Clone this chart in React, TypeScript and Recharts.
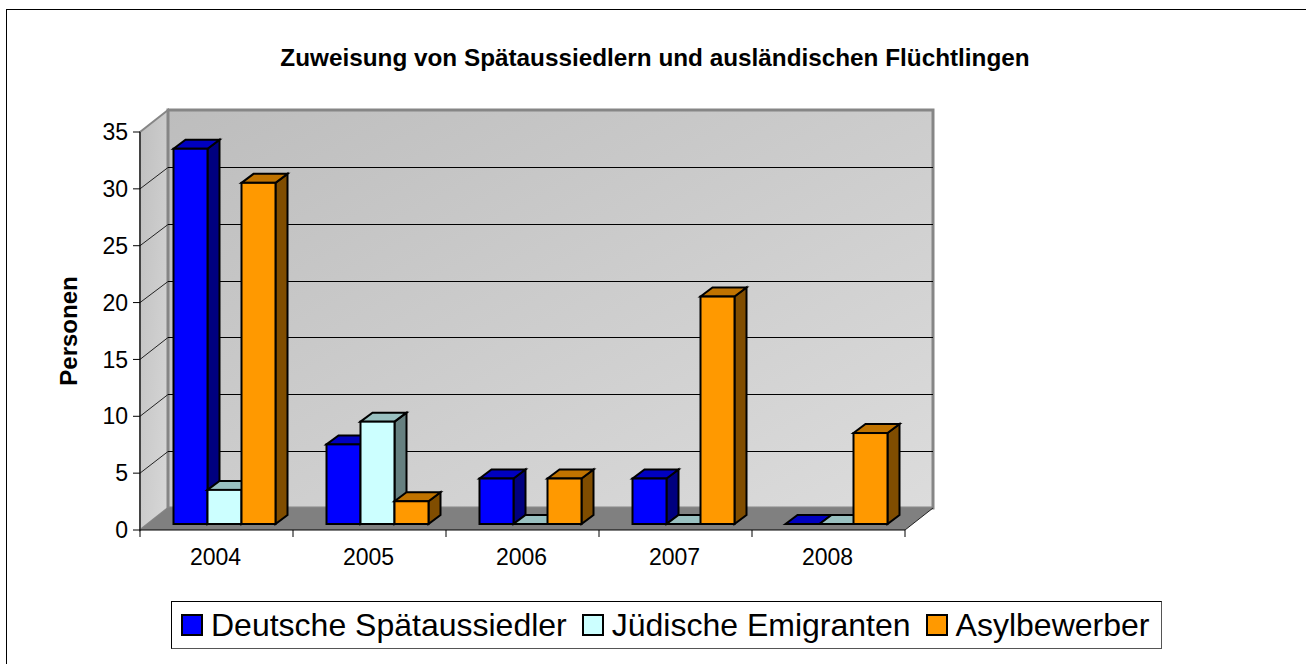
import React from "react";
import { Bar, BarChart, CartesianGrid, Legend, XAxis, YAxis } from "recharts";

const YEARS = ["2004", "2005", "2006", "2007", "2008"];
const SPAETAUSSIEDLER = [33, 7, 4, 4, 0];
const EMIGRANTEN = [3, 9, 0, 0, 0];
const ASYLBEWERBER = [30, 2, 4, 20, 8];
const Y_TICKS = [0, 5, 10, 15, 20, 25, 30, 35];

const FONT = "'Liberation Sans', Arial, sans-serif";

const data = YEARS.map((year, i) => ({
  year,
  spaet: SPAETAUSSIEDLER[i],
  emig: EMIGRANTEN[i],
  asyl: ASYLBEWERBER[i],
}));

// plot area of the front plane
const LEFT = 140;
const RIGHT = 905;
const TOP = 132;
const BOTTOM = 530;
// offset of the back wall
const WALL_DX = 28;
const WALL_DY = -22;
// bars stand in the middle of the floor
const BAR_SHIFT_X = 7.5;
const BAR_SHIFT_Y = -6;
const BAR_DX = 12;
const BAR_DY = -9;

const pts = (list: number[][]) => list.map((p) => p.join(",")).join(" ");

const make3dBar = (top: string, side: string) => (props: any) => {
  const { x, y, width, height, fill } = props;
  const l = x + BAR_SHIFT_X;
  const r = l + width;
  const t = y + BAR_SHIFT_Y;
  const b = t + height;
  const common = { stroke: "#000", strokeWidth: 2, strokeLinejoin: "miter" as const };
  return (
    <g>
      <polygon
        points={pts([[r, t], [r + BAR_DX, t + BAR_DY], [r + BAR_DX, b + BAR_DY], [r, b]])}
        fill={side}
        {...common}
      />
      <polygon
        points={pts([[l, t], [l + BAR_DX, t + BAR_DY], [r + BAR_DX, t + BAR_DY], [r, t]])}
        fill={top}
        {...common}
      />
      <rect x={l} y={t} width={width} height={height} fill={fill} {...common} />
    </g>
  );
};

// walls and floor, drawn once in the grid layer so the grid lines stay on top
const Walls = () => (
  <g>
    <polygon
      points={pts([[LEFT, TOP], [LEFT + WALL_DX, TOP + WALL_DY], [LEFT + WALL_DX, BOTTOM + WALL_DY], [LEFT, BOTTOM]])}
      fill="url(#wallSide)"
      stroke="#868686"
      strokeWidth={2}
    />
    <rect
      x={LEFT + WALL_DX}
      y={TOP + WALL_DY}
      width={RIGHT - LEFT}
      height={BOTTOM - TOP}
      fill="url(#wallBack)"
      stroke="#868686"
      strokeWidth={3}
    />
    <polygon
      points={pts([[LEFT, BOTTOM], [RIGHT, BOTTOM], [RIGHT + WALL_DX, BOTTOM + WALL_DY], [LEFT + WALL_DX, BOTTOM + WALL_DY]])}
      fill="#808080"
    />
    <line x1={RIGHT} y1={BOTTOM} x2={RIGHT + WALL_DX} y2={BOTTOM + WALL_DY} stroke="#222" />
  </g>
);

// custom grid line: runs along the back wall and down the side wall to the tick
const gridLine = (props: any) => {
  const { x1, x2, y1, index, key } = props;
  const edge = Math.abs(y1 - BOTTOM) < 1 || Math.abs(y1 - TOP) < 1;
  const backY = Math.round(y1 + WALL_DY) + 0.5;
  return (
    <g key={key}>
      {index === 0 && <Walls />}
      {!edge && (
        <>
          <line x1={x1} y1={y1} x2={x1 + WALL_DX} y2={backY} stroke="#222" strokeWidth={1} />
          <line x1={x1 + WALL_DX} y1={backY} x2={x2 + WALL_DX} y2={backY} stroke="#000" strokeWidth={1} />
        </>
      )}
    </g>
  );
};

const XTick = (props: any) => {
  const { x, y, payload, index, visibleTicksCount } = props;
  const band = (RIGHT - LEFT) / visibleTicksCount;
  return (
    <g>
      <line x1={x - band / 2} y1={BOTTOM} x2={x - band / 2} y2={BOTTOM + 7} stroke="#000" />
      {index === visibleTicksCount - 1 && (
        <line x1={x + band / 2} y1={BOTTOM} x2={x + band / 2} y2={BOTTOM + 7} stroke="#000" />
      )}
      <text x={x - 1} y={y + 27} textAnchor="middle" fontSize={23} fontFamily={FONT} fill="#000">
        {payload.value}
      </text>
    </g>
  );
};

const LegendBox = ({ payload }: any) => (
  <div
    style={{
      boxSizing: "border-box",
      width: 991,
      height: 48,
      borderTop: "1px solid #000",
      borderLeft: "1px solid #000",
      borderRight: "1px solid #555",
      borderBottom: "1px solid #555",
      display: "flex",
      alignItems: "center",
      paddingLeft: 9,
      fontFamily: FONT,
      fontSize: 32,
      color: "#000",
      background: "#fff",
      whiteSpace: "nowrap",
    }}
  >
    {(payload || []).map((item: any) => (
      <span key={item.value} style={{ display: "flex", alignItems: "center", marginRight: 15 }}>
        <span
          style={{
            display: "inline-block",
            boxSizing: "border-box",
            width: 22,
            height: 22,
            border: "2px solid #000",
            background: item.color,
            marginRight: 8,
          }}
        />
        {item.value}
      </span>
    ))}
  </div>
);

export default function App() {
  return (
    <div style={{ position: "absolute", left: 0, top: 0, width: 1306, height: 664, background: "#fff", overflow: "hidden" }}>
      <BarChart
        width={1306}
        height={664}
        data={data}
        barSize={34}
        barGap={0}
        margin={{ left: 60, right: 1306 - RIGHT, top: TOP, bottom: 94 }}
      >
        <defs>
          <linearGradient id="wallBack" x1="0" y1="0" x2="1" y2="1">
            <stop offset="0%" stopColor="#bdbdbd" />
            <stop offset="100%" stopColor="#dcdcdc" />
          </linearGradient>
          <linearGradient id="wallSide" x1="0" y1="0" x2="1" y2="1">
            <stop offset="0%" stopColor="#bfbfbf" />
            <stop offset="100%" stopColor="#d8d8d8" />
          </linearGradient>
        </defs>

        {/* outer frame, only top and left are on the picture */}
        <line x1={6} y1={9.5} x2={1306} y2={9.5} stroke="#000" />
        <line x1={6.5} y1={9} x2={6.5} y2={664} stroke="#000" />

        <text x={655} y={66} textAnchor="middle" fontSize={24.3} fontWeight="bold" fontFamily={FONT} fill="#000">
          Zuweisung von Spätaussiedlern und ausländischen Flüchtlingen
        </text>

        <CartesianGrid vertical={false} syncWithTicks horizontal={gridLine} />

        <XAxis
          dataKey="year"
          height={40}
          interval={0}
          axisLine={{ stroke: "#000", strokeWidth: 1 }}
          tickLine={false}
          tick={<XTick />}
        />
        <YAxis
          width={80}
          domain={[0, 35]}
          ticks={Y_TICKS}
          interval={0}
          tickSize={7}
          tickMargin={5}
          axisLine={{ stroke: "#000", strokeWidth: 1 }}
          tickLine={{ stroke: "#000" }}
          tick={{ fontSize: 23, fontFamily: FONT, fill: "#000" }}
          label={{
            value: "Personen",
            angle: -90,
            position: "insideLeft",
            offset: 8,
            style: { fontSize: 24, fontWeight: "bold", fontFamily: FONT, fill: "#000", textAnchor: "middle" },
          }}
        />

        <Bar dataKey="spaet" name="Deutsche Spätaussiedler" fill="#0000ff" isAnimationActive={false} shape={make3dBar("#0000c0", "#00007f")} />
        <Bar dataKey="emig" name="Jüdische Emigranten" fill="#ccffff" isAnimationActive={false} shape={make3dBar("#99c0c0", "#668080")} />
        <Bar dataKey="asyl" name="Asylbewerber" fill="#ff9900" isAnimationActive={false} shape={make3dBar("#c07300", "#804d00")} />

        <Legend
          layout="horizontal"
          verticalAlign="middle"
          align="center"
          itemSorter={null}
          content={<LegendBox />}
          wrapperStyle={{ left: 171, top: 601, width: 991, height: 48 }}
        />
      </BarChart>
    </div>
  );
}
